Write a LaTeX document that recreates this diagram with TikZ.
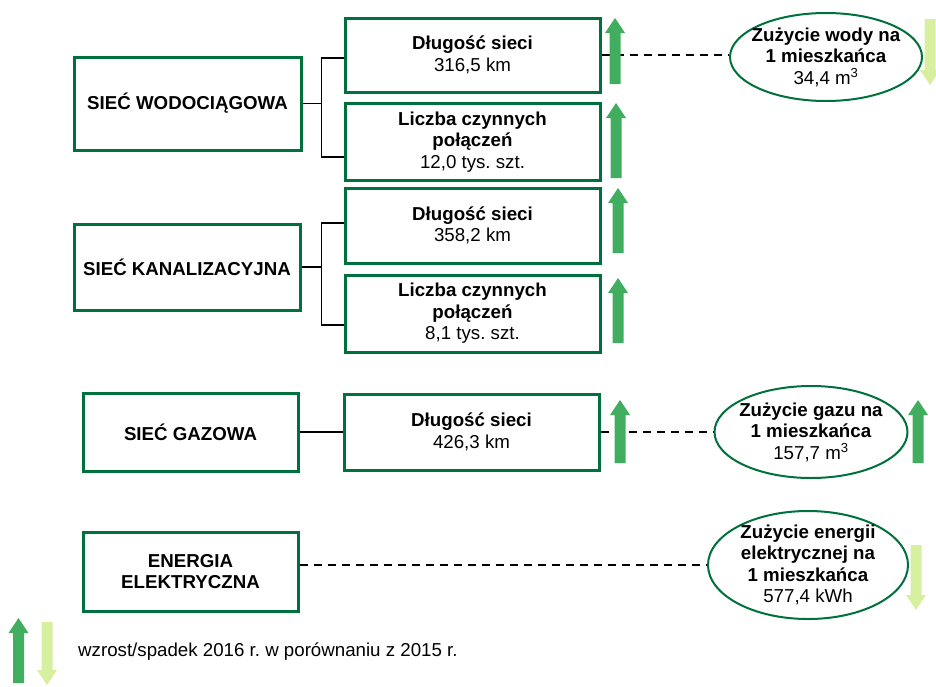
\documentclass[tikz,border=0pt]{standalone}
\usepackage{fontspec}
\setmainfont{Liberation Sans}
\usetikzlibrary{calc}
\usetikzlibrary{shapes}
\frenchspacing
\definecolor{ramka}{RGB}{0,112,60}
\definecolor{zielony}{RGB}{65,173,95}
\definecolor{jasny}{RGB}{215,240,160}
\tikzset{
  siec/.style={shape=rectangle,draw=ramka,line width=3pt,fill=white,align=center,inner sep=2pt},
  wskaznik/.style={shape=ellipse,draw=ramka,line width=2pt,fill=white,align=center,inner sep=-12pt},
  lacznik/.style={draw=black,line width=1.6pt},
  kreski/.style={draw=black,line width=1.6pt,dash pattern=on 8pt off 6pt}
}
\newcommand{\strup}[3]{\fill[zielony] (#1-5.5,#3) -- (#1-5.5,#2+15) -- (#1-10,#2+15) -- (#1,#2) -- (#1+10,#2+15) -- (#1+5.5,#2+15) -- (#1+5.5,#3) -- cycle;}
\newcommand{\strdown}[3]{\fill[jasny] (#1-5.5,#2) -- (#1-5.5,#3-15) -- (#1-10,#3-15) -- (#1,#3) -- (#1+10,#3-15) -- (#1+5.5,#3-15) -- (#1+5.5,#2) -- cycle;}
\begin{document}
\begin{tikzpicture}[x=1pt,y=-1pt,font=\fontsize{18.7}{21.5}\selectfont]
        \useasboundingbox (0,0) rectangle (936,686);
        \clip (0,0) rectangle (936,686);

        % sieci
        \node[siec,minimum width=227pt,minimum height=93pt] (B1) at (187.5,103.5) {\textbf{SIEĆ WODOCIĄGOWA}};
        \node[siec,minimum width=226pt,minimum height=86pt] (B2) at (187,267) {\textbf{SIEĆ KANALIZACYJNA}};
        \node[siec,minimum width=215pt,minimum height=78pt] (B3) at (190.5,432) {\textbf{SIEĆ GAZOWA}};
        \node[siec,minimum width=215pt,minimum height=79pt] (B4) at (190.5,571.5) {\textbf{ENERGIA}\\\textbf{ELEKTRYCZNA}};

        % dane
        \node[siec,minimum width=255pt,minimum height=74pt] (R1) at (472.5,55) {\textbf{Długość sieci}\\316,5 km};
        \node[siec,minimum width=255pt,minimum height=77pt] (R2) at (472.5,142) {\textbf{Liczba czynnych}\\\textbf{połączeń}\\12,0 tys. szt.};
        \node[siec,minimum width=255pt,minimum height=75pt] (R3) at (472.5,225.5) {\textbf{Długość sieci}\\358,2 km};
        \node[siec,minimum width=255pt,minimum height=77pt] (R4) at (472.5,313.5) {\textbf{Liczba czynnych}\\\textbf{połączeń}\\8,1 tys. szt.};
        \node[siec,minimum width=255pt,minimum height=76pt] (R5) at (471.5,432) {\textbf{Długość sieci}\\426,3 km};

        % zuzycie
        \node[wskaznik,minimum width=192pt,minimum height=88pt] (E1) at (826,57) {\textbf{Zużycie wody na}\\\textbf{1 mieszkańca}\\34,4 m\textsuperscript{3}};
        \node[wskaznik,minimum width=193pt,minimum height=92pt] (E2) at (811,432) {\textbf{Zużycie gazu na}\\\textbf{1 mieszkańca}\\157,7 m\textsuperscript{3}};
        \node[wskaznik,minimum width=200pt,minimum height=108pt] (E3) at (808,565) {\textbf{Zużycie energii}\\\textbf{elektrycznej na}\\\textbf{1 mieszkańca}\\577,4 kWh};

        % laczniki
        \coordinate (k1) at ($(B1.east)+(19,0)$);
        \coordinate (k2) at ($(B2.east)+(20,0)$);
        \draw[lacznik] (B1.east) -- (k1);
        \draw[lacznik] ([yshift=-3pt]R1.west) -| (k1) |- ([yshift=-15pt]R2.west);
        \draw[lacznik] (B2.east) -- (k2);
        \draw[lacznik] ([yshift=2.5pt]R3.west) -| (k2) |- ([yshift=-11.5pt]R4.west);
        \draw[lacznik] (B3.east) -- (R5.west);

        % kreski
        \draw[kreski] (R1.east) -- (R1.east -| E1.west);
        \draw[kreski] (R5.east) -- (E2.west);
        \draw[kreski] (B4.east |- E3.west) -- (E3.west);

        % strzalki
        \strup{615}{18}{84}
        \strup{616}{103}{178}
        \strup{618}{188}{253}
        \strup{618}{278}{343}
        \strup{620}{400}{463}
        \strup{918}{400}{463}
        \strdown{930}{19}{85}
        \strdown{916}{545}{610}

        % legenda
        \strup{18.5}{618}{683}
        \strdown{47}{622}{685}
        \node[anchor=west,inner sep=0pt] (opis) at (78,652) {wzrost/spadek 2016 r. w porównaniu z 2015 r.};
\end{tikzpicture}
\end{document}
